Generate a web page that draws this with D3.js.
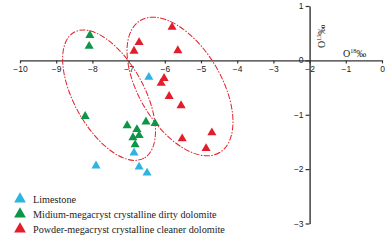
<!DOCTYPE html>
<html>
<head>
<meta charset="utf-8">
<script src="https://cdn.jsdelivr.net/npm/d3@7"></script>
<style>
  body { margin: 0; background: #fff; }
  svg { display: block; font-family: "Liberation Serif", "DejaVu Serif", serif; }
  .axis path, .axis line { stroke: #333; }
  .axis text { fill: #222; font-size: 8.5px; }
</style>
</head>
<body>
<div id="chart"></div>
<script>
const width = 390;
const height = 240;

// δ18O (x) and δ13C (y) values, ‰
const limestoneX = [-6.44, -6.85, -7.90, -6.71, -6.49];
const limestoneY = [-0.31, -1.70, -1.94, -1.96, -2.07];

const dirtyX = [-8.07, -8.09, -8.20, -7.04, -6.52, -6.27, -6.77, -6.88, -6.71, -6.82];
const dirtyY = [0.46, 0.26, -1.03, -1.20, -1.13, -1.16, -1.27, -1.42, -1.38, -1.55];

const cleanX = [-5.80, -6.71, -6.85, -5.64, -6.02, -6.10, -5.88, -5.55, -5.52, -4.70, -4.86];
const cleanY = [0.61, 0.33, 0.17, 0.18, -0.33, -0.42, -0.66, -0.83, -1.44, -1.33, -1.62];

const seriesNames = [
  'Limestone',
  'Midium-megacryst crystalline dirty dolomite',
  'Powder-megacryst crystalline cleaner dolomite'
];
const colors = ['#2db4e0', '#0d9648', '#e31d2b'];

const xTicks = [-10, -9, -8, -7, -6, -5, -4, -3, -2, -1, 0];
const yTicks = [1, 0, -1, -2, -3];

// group ellipse centres (data units)
const ellipseCx = [-7.54, -5.58];
const ellipseCy = [-0.64, -0.48];

const svg = d3.select('#chart')
  .append('svg')
  .attr('width', width)
  .attr('height', height);

const x = d3.scaleLinear().domain([-10, 0]).range([20, 382]);
const y = d3.scaleLinear().domain([-3, 1]).range([223.5, 6]);

// axes
svg.append('g')
  .attr('class', 'axis')
  .attr('transform', `translate(0,${y(0)})`)
  .call(d3.axisBottom(x).tickValues(xTicks).tickFormat(d3.format('d')).tickSize(3).tickPadding(3).tickSizeOuter(0))
  .call(g => g.select('.domain').attr('stroke-width', 1.4))
  .call(g => g.selectAll('.tick line').attr('stroke-width', 1.2));

svg.append('g')
  .attr('class', 'axis')
  .attr('transform', `translate(${x(-2)},0)`)
  .call(d3.axisLeft(y).tickValues(yTicks).tickFormat(d3.format('d')).tickSize(4).tickPadding(2).tickSizeOuter(0))
  .call(g => g.select('.domain').attr('stroke-width', 1.4))
  .call(g => g.selectAll('.tick line').attr('stroke-width', 1.2))
  .call(g => g.selectAll('.tick text').filter(d => d === 0).attr('dy', '0.2em'));

// ellipses around groups
const ellipses = [
  { a: 72, b: 35, angle: 61 },
  { a: 77, b: 41, angle: 59 }
];
svg.selectAll('.ring')
  .data(ellipses)
  .enter()
  .append('ellipse')
  .attr('class', 'ring')
  .attr('transform', (d, i) => `translate(${x(ellipseCx[i])},${y(ellipseCy[i])}) rotate(${d.angle})`)
  .attr('rx', d => d.a)
  .attr('ry', d => d.b)
  .attr('fill', 'none')
  .attr('stroke', '#e0232c')
  .attr('stroke-width', 1)
  .attr('stroke-dasharray', '6,1.5,1.5,1.5');

// points
const series = [
  { xs: limestoneX, ys: limestoneY },
  { xs: dirtyX, ys: dirtyY },
  { xs: cleanX, ys: cleanY }
];
const tri = d3.symbol().type(d3.symbolTriangle).size(36);

series.forEach((s, k) => {
  svg.append('g')
    .selectAll('path')
    .data(s.xs.map((v, i) => [v, s.ys[i]]))
    .enter()
    .append('path')
    .attr('d', tri)
    .attr('transform', d => `translate(${x(d[0])},${y(d[1])})`)
    .attr('fill', colors[k]);
});

// axis titles
const yTitle = svg.append('text')
  .attr('transform', 'translate(325,48) rotate(-90)')
  .style('font-size', '10px')
  .style('fill', '#222');
yTitle.append('tspan').text('O');
yTitle.append('tspan').attr('dy', -4).style('font-size', '6px').text('13');
yTitle.append('tspan').attr('dy', 4).text('‰');

const xTitle = svg.append('text')
  .attr('x', 343)
  .attr('y', 57)
  .style('font-size', '10px')
  .style('fill', '#222');
xTitle.append('tspan').text('O');
xTitle.append('tspan').attr('dy', -4).style('font-size', '6px').text('18');
xTitle.append('tspan').attr('dy', 4).text('‰');

// legend
const legendTri = d3.symbol().type(d3.symbolTriangle).size(60);
const legend = svg.selectAll('.legend')
  .data(seriesNames)
  .enter()
  .append('g')
  .attr('class', 'legend')
  .attr('transform', (d, i) => `translate(20,${199 + i * 15})`);

legend.append('path')
  .attr('d', legendTri)
  .attr('fill', (d, i) => colors[i]);

legend.append('text')
  .attr('x', 13)
  .attr('dy', '0.35em')
  .text(d => d)
  .style('font-size', '10.2px')
  .style('fill', '#222');
</script>
</body>
</html>
